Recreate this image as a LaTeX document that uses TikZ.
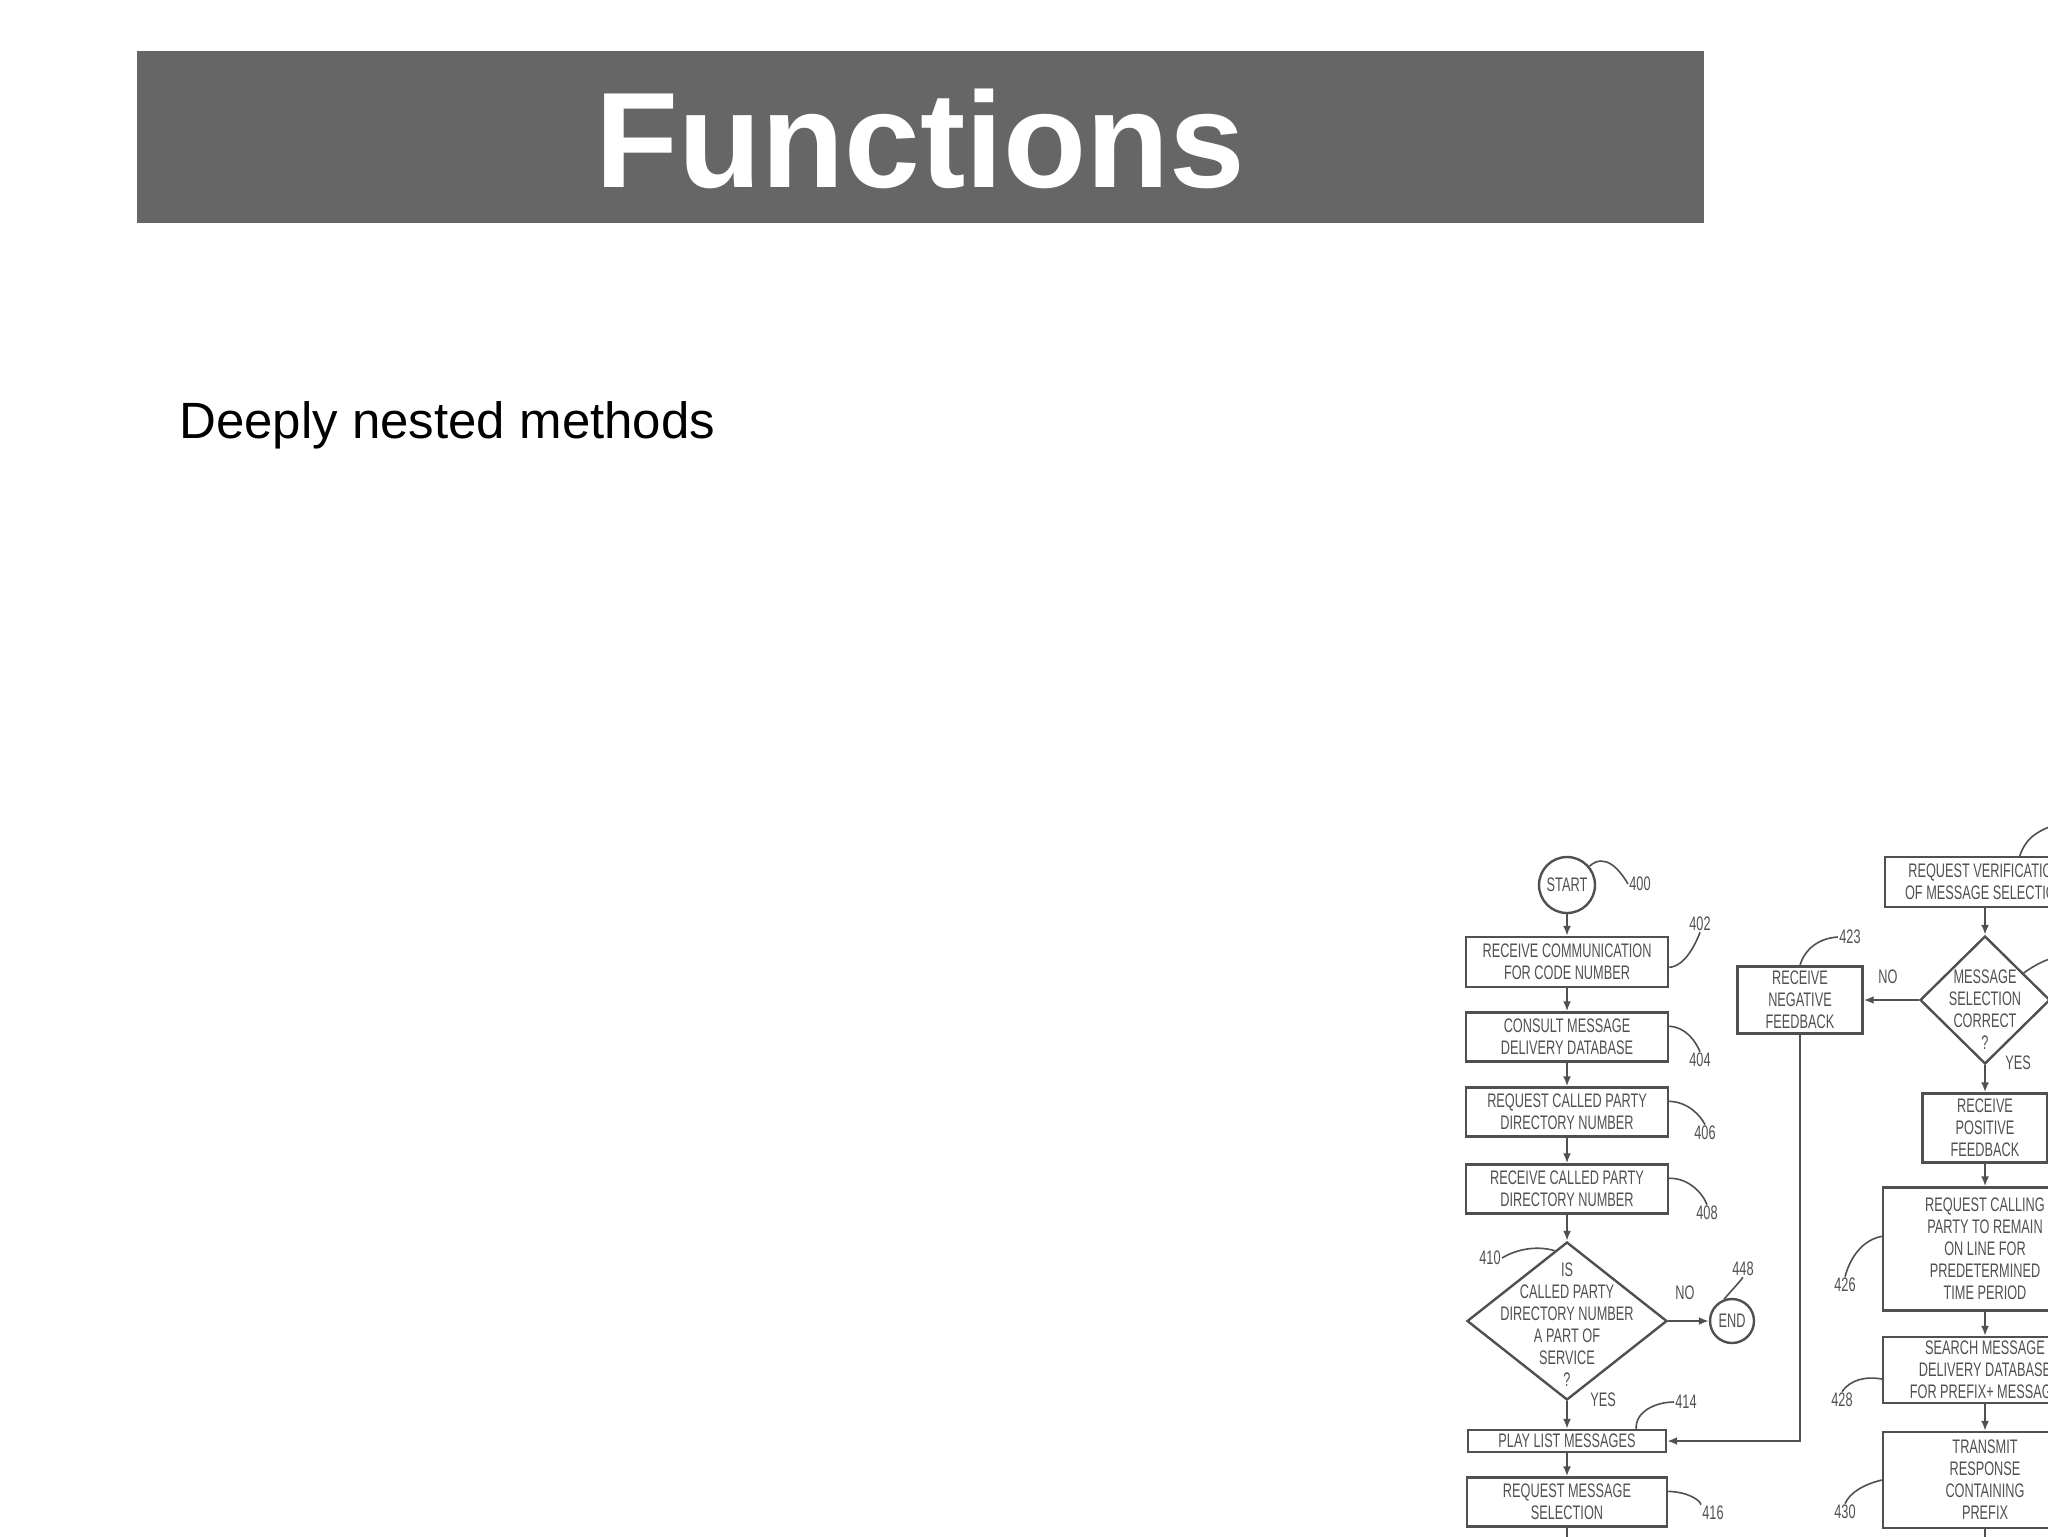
\documentclass[tikz,border=0pt]{standalone}
\usepackage{fontspec}
\setmainfont{Liberation Sans}
\newfontfamily\patentfont[FakeStretch=0.65]{Liberation Sans}
\usetikzlibrary{shapes.geometric, arrows.meta}
\definecolor{bargray}{HTML}{666666}
\definecolor{inkgray}{HTML}{505050}
\tikzset{
  pbox/.style={draw=inkgray, line width=1.2pt, rectangle, align=center, inner sep=0pt, text=inkgray, font=\patentfont\fontsize{9.8}{11}\selectfont},
  pcirc/.style={pbox, circle},
  decision/.style={draw=inkgray, line width=1.2pt, diamond, inner sep=0pt},
  qtext/.style={align=center, inner sep=0pt, text=inkgray, font=\patentfont\fontsize{9.8}{11}\selectfont},
  flow/.style={draw=inkgray, line width=1.2pt, -{Latex[length=5pt,width=4pt]}},
  leader/.style={draw=inkgray, line width=0.8pt},
  reftag/.style={qtext, inner sep=0.5pt}
}

\begin{document}
\begin{tikzpicture}[x=0.5pt, y=-0.5pt]
  \useasboundingbox (0,0) rectangle (2048,1536);
  \clip (0,0) rectangle (2048,1536);
  % heading
  \fill[bargray] (137,51) rectangle (1704,223);
  \node[anchor=base, inner sep=0pt, text=white, font=\bfseries\fontsize{68}{80}\selectfont] (heading) at (920,187) {Functions};
  \node[anchor=base west, inner sep=0pt, font=\fontsize{25.5}{30}\selectfont] (subhead) at (179,438) {Deeply nested methods};

  % left column
  \node[pcirc, minimum size=28pt] (start) at (1567,885) {START};
  \node[pbox, minimum width=101pt, minimum height=25pt] (b402) at (1567,962) {RECEIVE COMMUNICATION\\FOR CODE NUMBER};
  \node[pbox, minimum width=101pt, minimum height=24.5pt] (b404) at (1567,1037) {CONSULT MESSAGE\\DELIVERY DATABASE};
  \node[pbox, minimum width=101pt, minimum height=24.5pt] (b406) at (1567,1112) {REQUEST CALLED PARTY\\DIRECTORY NUMBER};
  \node[pbox, minimum width=101pt, minimum height=24.5pt] (b408) at (1567,1189) {RECEIVE CALLED PARTY\\DIRECTORY NUMBER};
  \node[decision, minimum width=100pt, minimum height=79pt,
        label={[qtext, yshift=-2pt]center:IS\\CALLED PARTY\\DIRECTORY NUMBER\\A PART OF\\SERVICE\\?}] (d410) at (1567,1321) {};
  \node[pcirc, minimum size=22pt] (end) at (1732,1321) {END};
  \node[pbox, minimum width=99pt, minimum height=11pt] (b414) at (1567,1441) {PLAY LIST MESSAGES};
  \node[pbox, minimum width=100pt, minimum height=24.5pt] (b416) at (1567,1502) {REQUEST MESSAGE\\SELECTION};
  \coordinate (off416) at (1567,1575);

  % right column
  \node[pbox, minimum width=100pt, minimum height=25pt] (b418) at (1985,882) {REQUEST VERIFICATION\\OF MESSAGE SELECTION};
  \node[decision, minimum width=65pt, minimum height=64pt,
        label={[qtext, yshift=-5pt]center:MESSAGE\\SELECTION\\CORRECT\\?}] (d420) at (1985,1000) {};
  \node[pbox, minimum width=62.5pt, minimum height=33.5pt] (b423) at (1800,1000) {RECEIVE\\NEGATIVE\\FEEDBACK};
  \node[pbox, minimum width=62.5pt, minimum height=34.5pt] (b422) at (1985,1128) {RECEIVE\\POSITIVE\\FEEDBACK};
  \node[pbox, minimum width=102pt, minimum height=61.5pt] (b426) at (1985,1249) {REQUEST CALLING\\PARTY TO REMAIN\\ON LINE FOR\\PREDETERMINED\\TIME PERIOD};
  \node[pbox, minimum width=102pt, minimum height=33pt] (b428) at (1985,1370) {SEARCH MESSAGE\\DELIVERY DATABASE\\FOR PREFIX+ MESSAGE};
  \node[pbox, minimum width=102pt, minimum height=48pt] (b430) at (1985,1480) {TRANSMIT\\RESPONSE\\CONTAINING\\PREFIX};
  \coordinate (off430) at (1985,1575);

  % flow
  \foreach \a/\b in {start/b402, b402/b404, b404/b406, b406/b408, b408/d410, d410/b414, b414/b416, b416/off416,
                     b418/d420, d420/b422, b422/b426, b426/b428, b428/b430, b430/off430}
    \draw[flow] (\a) -- (\b);
  \draw[flow] (d410) -- (end);
  \draw[flow] (d420) -- (b423);
  \draw[flow] (b423.south) -- (b423.south |- b414.east) -- (b414.east);

  % branch words
  \node[qtext] (no410) at (1685,1293) {NO};
  \node[qtext] (yes410) at (1603,1400) {YES};
  \node[qtext] (no420) at (1888,977) {NO};
  \node[qtext] (yes420) at (2018,1063) {YES};

  % reference numbers
  \node[reftag] (t400) at (1640,884) {400};
  \node[reftag] (t402) at (1700,924) {402};
  \node[reftag] (t404) at (1700,1060) {404};
  \node[reftag] (t406) at (1705,1133) {406};
  \node[reftag] (t408) at (1707,1213) {408};
  \node[reftag] (t410) at (1490,1258) {410};
  \node[reftag] (t448) at (1743,1269) {448};
  \node[reftag] (t414) at (1686,1402) {414};
  \node[reftag] (t416) at (1713,1513) {416};
  \node[reftag] (t423) at (1850,937) {423};
  \node[reftag] (t418) at (2064,826) {418};
  \node[reftag] (t420) at (2078,955) {420};
  \node[reftag] (t422) at (2080,1100) {422};
  \node[reftag] (t426) at (1845,1285) {426};
  \node[reftag] (t428) at (1842,1400) {428};
  \node[reftag] (t430) at (1845,1512) {430};

  \draw[leader] (start.40) .. controls (1605,852) and (1620,870) .. (t400.west);
  \draw[leader] (b402.-3) .. controls (1685,966) and (1695,945) .. (t402.south);
  \draw[leader] (b404.6) .. controls (1685,1027) and (1695,1040) .. (t404.north);
  \draw[leader] (b406.6) .. controls (1688,1102) and (1700,1115) .. (t406.north);
  \draw[leader] (b408.6) .. controls (1688,1178) and (1702,1192) .. (t408.north);
  \draw[leader] (t410.east) .. controls (1515,1250) and (1535,1245) .. (d410.100);
  \draw[leader] (t448.south) .. controls (1737,1285) and (1730,1292) .. (end.110);
  \draw[leader] (b414.10) .. controls (1635,1412) and (1655,1402) .. (t414.west);
  \draw[leader] (b416.6) .. controls (1688,1492) and (1700,1500) .. (t416.north west);
  \draw[leader] (b423.north) .. controls (1805,948) and (1820,938) .. (t423.west);
  \draw[leader] (b418.37) .. controls (2025,840) and (2035,832) .. (t418.west);
  \draw[leader] (d420.35) .. controls (2038,963) and (2048,958) .. (t420.west);
  \draw[leader] (b422.10) .. controls (2058,1112) and (2065,1104) .. (t422.west);
  \draw[leader] (b426.173) .. controls (1862,1240) and (1850,1258) .. (t426.north);
  \draw[leader] (b428.185) .. controls (1865,1376) and (1850,1380) .. (t428.north);
  \draw[leader] (b430.west) .. controls (1865,1484) and (1850,1492) .. (t430.north);
\end{tikzpicture}
\end{document}
